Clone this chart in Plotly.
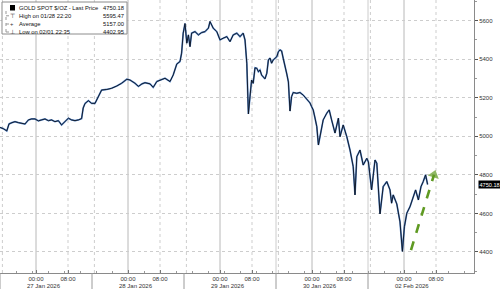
import plotly.graph_objects as go

# ---------------- data ----------------
# x: trading hours elapsed since the start of the 27 Jan 2026 session (23h sessions)
t_hours = [0, 0.8, 1.7, 2.25, 3, 3.75, 4.6, 5.5, 6.25, 7.1, 7.9, 8.75, 9.6, 10.4, 11.25, 12.1,
           12.9, 13.75, 14.6, 15.4, 16.25, 17.1, 17.9, 18.75, 19.6, 20.4, 20.8, 21.25, 22.1, 22.9,
           23.75, 24.6, 25.4, 26.7, 27.9, 29.2, 30.4, 31.7, 32.5, 33.75, 34.6, 35.5, 36.25, 37.5,
           38.3, 39.2, 40.4, 41.25, 42.5, 43.3, 44.2, 45, 45.4, 45.8, 46.25, 46.7, 47.1, 47.5,
           47.9, 48.75, 49.6, 50.4, 51.25, 52.1, 52.5, 53.3, 54.2, 55, 55.8, 56.7, 57.5, 58.3,
           59.2, 60, 60.8, 61.25, 61.7, 62.1, 62.5, 62.9, 63.3, 63.75, 64.2, 64.6, 65, 65.4,
           66.25, 66.7, 67.1, 67.5, 67.9, 68.3, 69.2, 69.6, 70, 70.4, 70.8, 71.25, 71.7, 72.1,
           72.5, 72.9, 73.3, 74.2, 75, 75.8, 76.7, 77.5, 77.9, 78.3, 78.75, 79.2, 79.6, 80, 80.4,
           80.8, 81.7, 82.3, 82.9, 83.75, 84.6, 85, 85.8, 86.7, 87.5, 88.3, 88.75, 89.2, 90,
           90.8, 91.7, 92.1, 92.9, 93.75, 94.2, 94.6, 95, 95.8, 96.7, 97.5, 97.9, 98.3, 99.2,
           100, 100.4, 100.6, 101.1, 101.7, 102.5, 103.3, 103.9, 104.6, 105.25, 105.8, 106.4, 106.9]
price = [5046, 5040, 5028, 5064, 5071, 5076, 5071, 5068, 5064, 5085, 5090, 5090, 5080, 5085, 5090,
         5081, 5085, 5076, 5081, 5059, 5076, 5094, 5085, 5081, 5085, 5092, 5147, 5170, 5185, 5171,
         5171, 5206, 5240, 5243, 5249, 5261, 5275, 5296, 5292, 5275, 5259, 5272, 5278, 5272,
         5254, 5284, 5292, 5301, 5284, 5318, 5375, 5388, 5431, 5535, 5585, 5483, 5526, 5465,
         5535, 5543, 5526, 5538, 5543, 5561, 5595.47, 5561, 5543, 5500, 5509, 5517, 5491, 5526,
         5535, 5517, 5535, 5500, 5379, 5116, 5206, 5292, 5275, 5355, 5353, 5335, 5344, 5318,
         5298, 5327, 5396, 5406, 5379, 5396, 5413, 5439, 5448, 5443, 5405, 5355, 5323, 5282,
         5131, 5206, 5227, 5223, 5227, 5214, 5194, 5173, 5154, 5137, 5095, 5050, 4955, 4998, 5043,
         5085, 5120, 5137, 5085, 5017, 5094, 4998, 5059, 4998, 4929, 4843, 4696, 4894, 4929,
         4851, 4886, 4867, 4722, 4877, 4860, 4739, 4597, 4739, 4765, 4722, 4653, 4696, 4649,
         4556, 4462, 4402.95, 4531, 4601, 4635, 4685, 4722, 4670, 4739, 4765, 4800, 4750.18]

day_labels = ["27 Jan 2026", "28 Jan 2026", "29 Jan 2026", "30 Jan 2026", "02 Feb 2026"]
hour_labels = ["00:00", "08:00"]
y_ticks = [4400, 4600, 4800, 5000, 5200, 5400, 5600]

legend_rows = [("GOLD SPOT $/OZ - Last Price", "4750.18"),
               ("High on 01/28 22:20", "5595.47"),
               ("Average", "5157.00"),
               ("Low on 02/01 22:35", "4402.95")]
legend_icons = ["", "\u22a4", "+", "\u22a5"]
last_price = 4750.18

arrow_x = [102.75, 108.5]
arrow_y = [4410, 4800]

# ---------------- layout helpers ----------------
SESSION = 23.0
MID_OFF = 9.0      # 00:00 is 9 trading hours into a session
EIGHT_OFF = 17.0   # 08:00
starts = [SESSION * i for i in range(len(day_labels))]
mid_ticks = [s + MID_OFF for s in starts]
eight_ticks = [s + EIGHT_OFF for s in starts]

W, H = 500, 289
ML, MR, MT, MB = 0, 26, 0, 16
PW, PH = W - ML - MR, H - MT - MB
def px(xp):
    return xp / PW
def py(yp):
    return 1 - yp / PH

FS = 6.0
FS_LEG = 5.8
FONT = "Liberation Sans, Arial, sans-serif"

fig = go.Figure()

fig.add_trace(go.Scatter(x=t_hours, y=price, mode="lines",
                         line=dict(color="#5585c8", width=1.7), hoverinfo="skip"))
fig.add_trace(go.Scatter(x=t_hours, y=price, mode="lines",
                         line=dict(color="#0b111c", width=0.9)))

fig.add_trace(go.Scatter(x=arrow_x, y=arrow_y, mode="lines",
                         line=dict(color="#5f9a22", width=2.6, dash="dash")))
fig.add_trace(go.Scatter(x=arrow_x, y=arrow_y, mode="markers",
                         marker=dict(size=[0, 10], symbol="triangle-up", color="#5f9a22",
                                     angleref="previous", line=dict(width=0))))

shapes = []
grid_solid = "#b8b8b8"
grid_dot = "#cdcdcd"
for m in mid_ticks:
    shapes.append(dict(type="line", xref="x", yref="paper", x0=m, x1=m, y0=0, y1=1,
                       line=dict(color=grid_solid, width=1), layer="below"))
for e in eight_ticks:
    shapes.append(dict(type="line", xref="x", yref="paper", x0=e, x1=e, y0=0, y1=1,
                       line=dict(color=grid_dot, width=1, dash="dot"), layer="below"))
for i, s in enumerate(starts):
    shapes.append(dict(type="line", xref="x", yref="paper", x0=s + 0.6, x1=s + 0.6, y0=0, y1=1,
                       line=dict(color=grid_dot, width=1, dash="dot"), layer="below"))
    if i >= 3:
        shapes.append(dict(type="line", xref="x", yref="paper", x0=s, x1=s, y0=0, y1=1,
                           line=dict(color="#cccccc", width=1), layer="below"))
    # date box separators below the axis
    shapes.append(dict(type="line", xref="x", yref="paper", x0=s, x1=s, y0=0, y1=-MB / PH,
                       line=dict(color="#9a9a9a", width=1)))

# legend box
shapes.append(dict(type="rect", xref="paper", yref="paper", x0=px(2), x1=px(127),
                   y0=py(34), y1=py(2), fillcolor="white",
                   line=dict(color="#8c8c8c", width=1)))
shapes.append(dict(type="rect", xref="paper", yref="paper", x0=px(10), x1=px(15),
                   y0=py(10.5), y1=py(5), fillcolor="black", line=dict(width=0)))
shapes.append(dict(type="line", xref="paper", yref="paper", x0=px(6), x1=px(6),
                   y0=py(32), y1=py(9), line=dict(color="#999", width=1, dash="dot")))

annotations = []
row_y = [7.6, 15.8, 24.0, 32.0]
for (lab, val), icon, ry in zip(legend_rows, legend_icons, row_y):
    annotations.append(dict(xref="paper", yref="paper", x=px(16.5), y=py(ry), text=lab,
                            showarrow=False, xanchor="left", yanchor="middle",
                            font=dict(size=FS_LEG, color="#111")))
    annotations.append(dict(xref="paper", yref="paper", x=px(125.5), y=py(ry), text=val,
                            showarrow=False, xanchor="right", yanchor="middle",
                            font=dict(size=FS_LEG, color="#111")))
    if icon:
        annotations.append(dict(xref="paper", yref="paper", x=px(12), y=py(ry), text=icon,
                                showarrow=False, xanchor="center", yanchor="middle",
                                font=dict(size=FS_LEG, color="#333")))
        shapes.append(dict(type="line", xref="paper", yref="paper", x0=px(6), x1=px(9),
                           y0=py(ry), y1=py(ry), line=dict(color="#999", width=1, dash="dot")))

for d, m in zip(day_labels, mid_ticks):
    annotations.append(dict(xref="x", yref="paper", x=m + 2, y=-12.6 / PH, text=d,
                            showarrow=False, xanchor="center", yanchor="middle",
                            font=dict(size=FS, color="#333")))

annotations.append(dict(xref="paper", yref="y", x=1 + 3.5 / PW, y=last_price,
                        text=f"{last_price:.2f}", showarrow=False, xanchor="left",
                        yanchor="middle", bgcolor="black", borderpad=0.5,
                        font=dict(size=5.6, color="white")))

tickvals = []
ticktext = []
for m, e in zip(mid_ticks, eight_ticks):
    tickvals += [m, e]
    ticktext += hour_labels

fig.update_layout(
    width=W, height=H,
    margin=dict(l=ML, r=MR, t=MT, b=MB),
    paper_bgcolor="white", plot_bgcolor="white",
    showlegend=False,
    font=dict(family=FONT, size=FS, color="#333"),
    shapes=shapes, annotations=annotations,
    xaxis=dict(range=[0, PW / 4.0], tickvals=tickvals, ticktext=ticktext,
               showgrid=False, zeroline=False, showline=True, linecolor="#8a8a8a",
               ticks="inside", ticklen=3, tickcolor="#777",
               tickfont=dict(size=FS, color="#333", family=FONT),
               minor=dict(ticks="inside", ticklen=2, dtick=4, tickcolor="#999")),
    yaxis=dict(side="right", range=[4291, 5707], tickvals=y_ticks,
               showgrid=True, gridcolor=grid_dot, griddash="dot", gridwidth=1,
               zeroline=False, showline=True, linecolor="#8a8a8a",
               ticks="outside", ticklen=3, tickcolor="#555",
               tickfont=dict(size=FS, color="#333", family=FONT),
               minor=dict(ticks="outside", ticklen=2, dtick=100, tick0=4400,
                          tickcolor="#999", showgrid=False)),
)

fig.write_html("out.html")
